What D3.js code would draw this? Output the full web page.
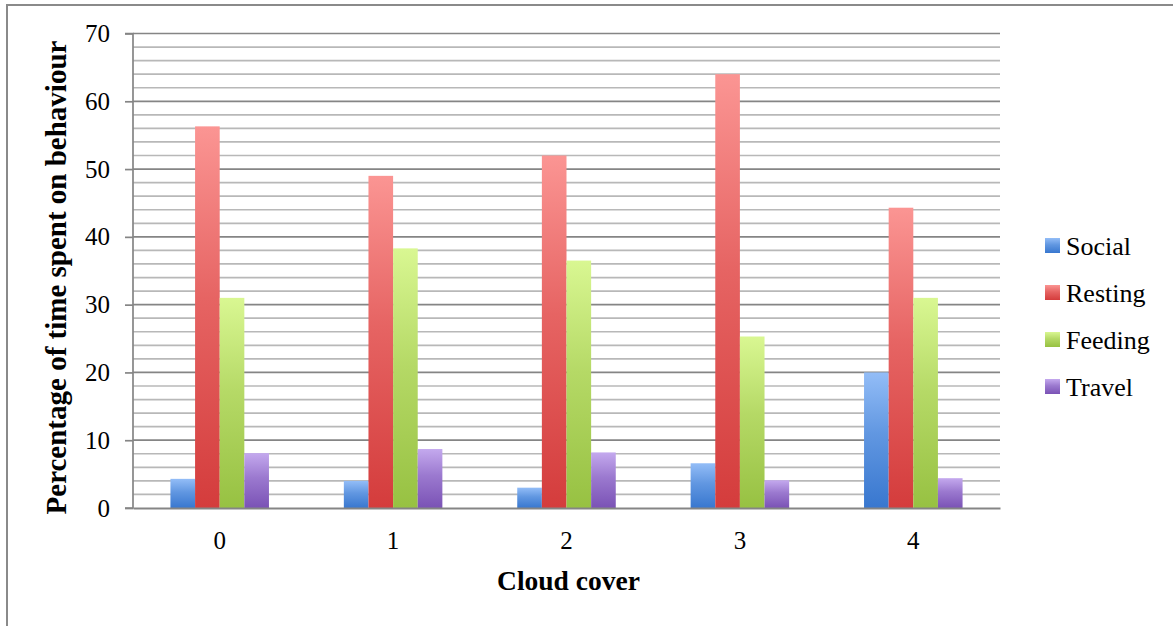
<!DOCTYPE html>
<html><head><meta charset="utf-8">
<script src="https://cdn.jsdelivr.net/npm/d3@7"></script>
<style>body{margin:0;background:#fff;} svg{display:block;}</style>
</head><body>
<script>
const categories = ["0","1","2","3","4"];
const seriesNames = ["Social","Resting","Feeding","Travel"];
const social  = [4.3, 4.0, 3.0, 6.6, 20.0];
const resting = [56.3, 49.0, 52.0, 64.0, 44.3];
const feeding = [31.0, 38.3, 36.5, 25.3, 31.0];
const travel  = [8.1, 8.7, 8.2, 4.1, 4.4];
const yTicks = [0,10,20,30,40,50,60,70];
const seriesValues = [social, resting, feeding, travel];
const colorsTop = ["#93bdf7","#fb9593","#d9f792","#c4a9ee"];
const colorsBot = ["#3877cf","#d43c3c","#97c142","#7a52b5"];

(function(){
const W = 1173, H = 626;
const svg = d3.select("body").append("svg").attr("width", W).attr("height", H);
const defs = svg.append("defs");
seriesNames.forEach((s,i)=>{
  const g = defs.append("linearGradient").attr("id","g"+i).attr("x1",0).attr("y1",0).attr("x2",0).attr("y2",1);
  g.append("stop").attr("offset","0%").attr("stop-color",colorsTop[i]);
  g.append("stop").attr("offset","45%").attr("stop-color",d3.interpolateRgb(colorsTop[i],colorsBot[i])(0.55));
  g.append("stop").attr("offset","100%").attr("stop-color",colorsBot[i]);
});

// frame
svg.append("path").attr("d",`M7,${H} V5 H${W}`).attr("fill","none").attr("stroke","#8a8a8a").attr("stroke-width",2);

const pL = 133, pR = 1000, pT = 33.5, pB = 508;
const y = d3.scaleLinear().domain([0,70]).range([pB, pT]);
const x0 = d3.scaleBand().domain(categories).range([pL, pR]).padding(0);
const x1 = d3.scaleBand().domain(seriesNames).range([0, x0.bandwidth()]).paddingOuter(1.52).paddingInner(0);

// gridlines
const minor = d3.range(0, 71, 2).filter(v => v % 10 !== 0);
svg.append("g").selectAll("line").data(minor).join("line")
  .attr("x1", pL).attr("x2", pR).attr("y1", d=>y(d)).attr("y2", d=>y(d))
  .attr("stroke","#b8b8b8").attr("stroke-width",1.7);
svg.append("g").selectAll("line").data(yTicks.filter(v=>v>0)).join("line")
  .attr("x1", pL).attr("x2", pR).attr("y1", d=>y(d)).attr("y2", d=>y(d))
  .attr("stroke","#858585").attr("stroke-width",1.7);

// bars
const groups = svg.append("g").selectAll("g").data(categories).join("g")
  .attr("transform", d=>`translate(${x0(d)},0)`);
groups.selectAll("rect").data((c,ci)=>seriesNames.map((s,si)=>({s, si, v: seriesValues[si][ci]}))).join("rect")
  .attr("x", d=>x1(d.s)).attr("width", x1.bandwidth())
  .attr("y", d=>y(d.v)).attr("height", d=>y(0)-y(d.v))
  .attr("fill", d=>`url(#g${d.si})`);

// y axis
const yAxis = d3.axisLeft(y).tickValues(yTicks).tickSize(8).tickPadding(15);
const ya = svg.append("g").attr("transform",`translate(${pL},0)`).call(yAxis);
ya.select(".domain").attr("stroke","#858585").attr("stroke-width",1.7).attr("d",`M-8,${pT}H0V${pB}H-8`);
ya.selectAll(".tick line").attr("stroke","#858585").attr("stroke-width",1.7);
ya.selectAll("text").attr("font-family","Liberation Serif").attr("font-size",25).attr("fill","#000");

// x axis
const xAxis = d3.axisBottom(x0).tickSize(0).tickPadding(23);
const xa = svg.append("g").attr("transform",`translate(0,${pB})`).call(xAxis);
xa.select(".domain").attr("stroke","#858585").attr("stroke-width",2);
xa.selectAll("text").attr("font-family","Liberation Serif").attr("font-size",25).attr("fill","#000");

// titles
svg.append("text").attr("x",(pL+pR)/2+2).attr("y",590).attr("text-anchor","middle")
  .attr("font-family","Liberation Serif").attr("font-weight","bold").attr("font-size",27.5).text("Cloud cover");
svg.append("text").attr("transform",`translate(66,${277.5}) rotate(-90)`).attr("text-anchor","middle")
  .attr("font-family","Liberation Serif").attr("font-weight","bold").attr("font-size",29).text("Percentage of time spent on behaviour");

// legend
const lg = svg.append("g").selectAll("g").data(seriesNames).join("g")
  .attr("transform",(d,i)=>`translate(1045,${246 + i*47})`);
lg.append("rect").attr("x",0).attr("y",-8).attr("width",15).attr("height",15).attr("fill",(d,i)=>`url(#g${i})`);
lg.append("text").attr("x",21).attr("y",9).attr("font-family","Liberation Serif").attr("font-size",26).text(d=>d);
})();
</script>
</body></html>
